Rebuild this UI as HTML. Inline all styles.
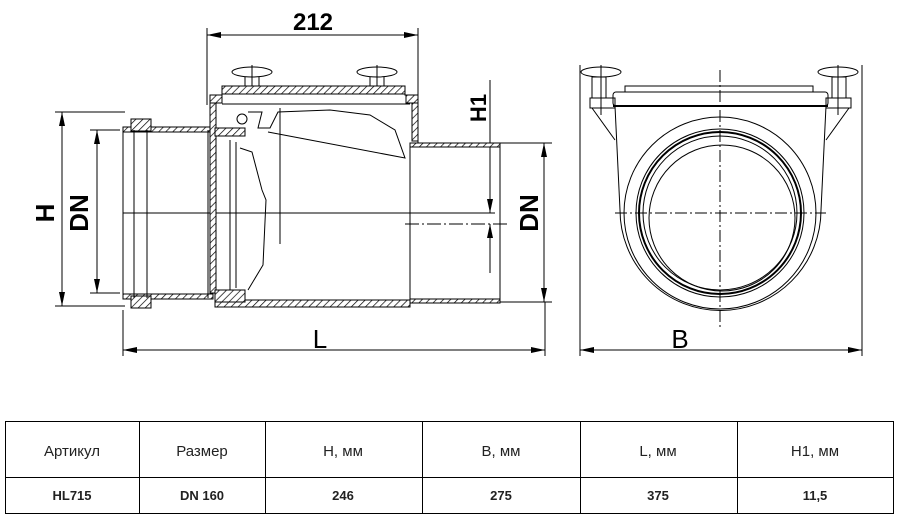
<!DOCTYPE html>
<html><head><meta charset="utf-8"><style>
body{margin:0;background:#fff;}
svg{display:block}
text{font-family:"Liberation Sans",sans-serif;}
</style></head><body>
<svg width="900" height="520" viewBox="0 0 900 520" xmlns="http://www.w3.org/2000/svg">
<defs>
<pattern id="h" width="5" height="5" patternUnits="userSpaceOnUse" patternTransform="rotate(45)"><rect width="5" height="5" fill="#fff"/><line x1="0" y1="0" x2="0" y2="5" stroke="#000" stroke-width="1.4"/></pattern>
<marker id="a" markerWidth="14" markerHeight="6" refX="14" refY="3" orient="auto" markerUnits="userSpaceOnUse"><path d="M0,0 L14,3 L0,6 Z" fill="#000" stroke="none"/></marker>
</defs>
<g fill="none" stroke="#000" stroke-width="1">
<!-- dimension 212 -->
<line x1="207" y1="28" x2="207" y2="105"/><line x1="418" y1="28" x2="418" y2="105"/>
<line x1="312" y1="35" x2="207" y2="35" marker-end="url(#a)"/><line x1="312" y1="35" x2="418" y2="35" marker-end="url(#a)"/>
<!-- H -->
<line x1="55" y1="112" x2="125" y2="112"/><line x1="55" y1="306" x2="125" y2="306"/>
<line x1="62" y1="213" x2="62" y2="112" marker-end="url(#a)"/><line x1="62" y1="213" x2="62" y2="306" marker-end="url(#a)"/>
<line x1="90" y1="130" x2="120" y2="130"/><line x1="90" y1="293" x2="120" y2="293"/>
<line x1="97" y1="213" x2="97" y2="130" marker-end="url(#a)"/><line x1="97" y1="213" x2="97" y2="293" marker-end="url(#a)"/>
<!-- right DN & H1 -->
<line x1="500" y1="143" x2="552" y2="143"/><line x1="500" y1="302" x2="552" y2="302"/>
<line x1="544" y1="220" x2="544" y2="143" marker-end="url(#a)"/><line x1="544" y1="220" x2="544" y2="302" marker-end="url(#a)"/>
<line x1="420" y1="143" x2="500" y2="143"/>
<line x1="490" y1="80" x2="490" y2="213" marker-end="url(#a)"/><line x1="490" y1="273" x2="490" y2="224" marker-end="url(#a)"/>
<line x1="405" y1="224" x2="510" y2="224" stroke-dasharray="14,3,2,3"/>
<!-- L -->
<line x1="123" y1="310" x2="123" y2="356"/><line x1="545" y1="302" x2="545" y2="356"/>
<line x1="320" y1="350" x2="123" y2="350" marker-end="url(#a)"/><line x1="320" y1="350" x2="545" y2="350" marker-end="url(#a)"/>
<!-- B -->
<line x1="580" y1="65" x2="580" y2="356"/><line x1="862" y1="65" x2="862" y2="356"/>
<line x1="700" y1="350" x2="580" y2="350" marker-end="url(#a)"/><line x1="700" y1="350" x2="862" y2="350" marker-end="url(#a)"/>
<!-- centerline left -->
<line x1="123" y1="213" x2="495" y2="213"/>
<!-- left socket -->
<rect x="123" y="127" width="90" height="5" fill="url(#h)"/>
<rect x="123" y="294" width="90" height="5" fill="url(#h)"/>
<rect x="131" y="119" width="20" height="12" fill="url(#h)"/>
<rect x="131" y="296" width="20" height="12" fill="url(#h)"/>
<line x1="123" y1="130" x2="123" y2="298"/><line x1="134" y1="130" x2="134" y2="298"/><line x1="147" y1="130" x2="147" y2="298"/>
<line x1="208" y1="130" x2="208" y2="298"/>
<!-- body -->
<path d="M210,95 H222 V88 H405 V95 H418 V143 H410" fill="none"/>
<rect x="222" y="86" width="183" height="8" fill="url(#h)"/>
<rect x="210" y="95" width="12" height="8" fill="url(#h)"/>
<rect x="406" y="95" width="12" height="8" fill="url(#h)"/>
<rect x="210" y="103" width="6" height="190" fill="url(#h)"/>
<rect x="412" y="103" width="6" height="38" fill="url(#h)"/>
<line x1="222" y1="104" x2="410" y2="104"/>
<rect x="215" y="300" width="195" height="7" fill="url(#h)"/>
<rect x="410" y="143" width="90" height="4" fill="url(#h)"/>
<rect x="410" y="299" width="90" height="4" fill="url(#h)"/>
<line x1="410" y1="143" x2="410" y2="303"/><line x1="500" y1="143" x2="500" y2="303"/>
<rect x="215" y="128" width="30" height="8" fill="url(#h)"/>
<rect x="215" y="290" width="30" height="12" fill="url(#h)"/>
<circle cx="242" cy="119" r="5"/>
<path d="M230,140 V290 M236,142 V288 M240,148 L252,152 L262,190 L266,200 L263,265 L248,290"/>
<path d="M248,112 L262,112 L258,128 L270,128 L278,112 L330,110 L370,115 L395,130 L405,158 L268,132"/>
<line x1="280" y1="108" x2="280" y2="244"/>
<!-- knobs -->
<ellipse cx="252" cy="72" rx="20" ry="5"/><line x1="252" y1="65" x2="252" y2="86"/><line x1="245" y1="77" x2="245" y2="86"/><line x1="259" y1="77" x2="259" y2="86"/>
<ellipse cx="377" cy="72" rx="20" ry="5"/><line x1="377" y1="65" x2="377" y2="86"/><line x1="370" y1="77" x2="370" y2="86"/><line x1="384" y1="77" x2="384" y2="86"/>
<!-- right view -->
<path d="M625,86 H813 V92 H625 Z"/>
<rect x="613" y="92" width="215" height="14" rx="3"/>
<line x1="613" y1="106" x2="828" y2="106" stroke-width="2"/>
<path d="M615,106 L620,210 M826,106 L821,210"/>
<path d="M620,210 A100,100 0 0 0 821,210"/>
<circle cx="720" cy="213" r="96"/>
<circle cx="720" cy="213" r="84"/>
<circle cx="720" cy="213" r="81" stroke-width="2"/>
<circle cx="720" cy="213" r="77"/>
<circle cx="722" cy="218" r="73"/>
<ellipse cx="601" cy="72" rx="20" ry="5"/><ellipse cx="838" cy="72" rx="20" ry="5"/>
<rect x="592" y="77" width="14" height="21"/><rect x="832" y="77" width="14" height="21"/>
<rect x="590" y="98" width="25" height="10"/><rect x="826" y="98" width="25" height="10"/>
<path d="M592,108 L615,140 M849,108 L826,140"/>
<line x1="601" y1="65" x2="601" y2="115"/><line x1="838" y1="65" x2="838" y2="115"/>
<line x1="720" y1="70" x2="720" y2="330" stroke-dasharray="12,3,2,3"/>
<line x1="615" y1="213" x2="826" y2="213" stroke-dasharray="12,3,2,3"/>
<!-- table -->
<rect x="5.5" y="421.5" width="888" height="92"/>
<line x1="5" y1="477.5" x2="894" y2="477.5"/>
<line x1="139.5" y1="421" x2="139.5" y2="514"/><line x1="265.5" y1="421" x2="265.5" y2="514"/>
<line x1="422.5" y1="421" x2="422.5" y2="514"/><line x1="580.5" y1="421" x2="580.5" y2="514"/>
<line x1="737.5" y1="421" x2="737.5" y2="514"/>
</g>
<g font-size="26" text-anchor="middle" fill="#000" font-weight="bold">
<text x="313" y="30" font-size="24">212</text>
<text x="320" y="348" font-weight="normal">L</text>
<text x="680" y="348" font-weight="normal">B</text>
<text transform="translate(54,213) rotate(-90)">H</text>
<text transform="translate(88,213) rotate(-90)">DN</text>
<text transform="translate(538,213) rotate(-90)">DN</text>
<text transform="translate(486,108) rotate(-90)" font-size="22">H1</text>
</g>
<g font-size="15" text-anchor="middle" fill="#222">
<text x="72" y="456">Артикул</text><text x="202" y="456">Размер</text><text x="343" y="456">H, мм</text>
<text x="501" y="456">B, мм</text><text x="658" y="456">L, мм</text><text x="815" y="456">H1, мм</text>
<g font-size="13" font-weight="bold"><text x="72" y="500">HL715</text><text x="202" y="500">DN 160</text><text x="343" y="500">246</text>
<text x="501" y="500">275</text><text x="658" y="500">375</text><text x="815" y="500">11,5</text></g>
</g>
</svg>
</body></html>
